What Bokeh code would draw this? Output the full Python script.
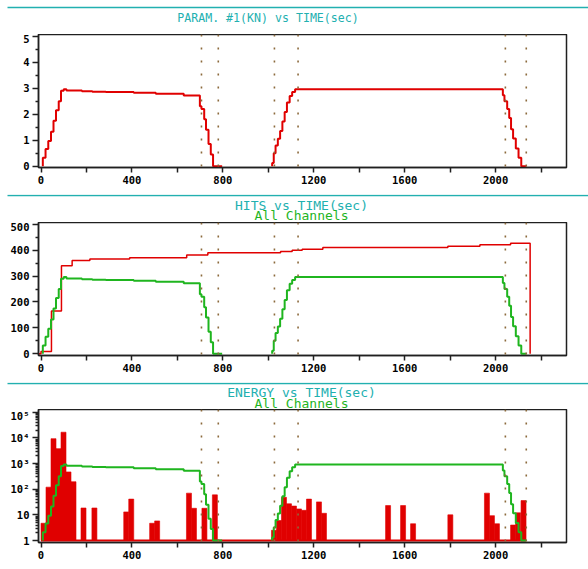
from bokeh.plotting import figure
from bokeh.layouts import column
from bokeh.models import FixedTicker, Span, Range1d
from bokeh.core.properties import value
from bokeh.embed import file_html
from bokeh.resources import INLINE

# ---------------- data ----------------
# time markers (sec) shown as dotted verticals in every panel
event_times = [706, 780, 1027, 1131, 2043, 2135]
x_ticks = [0, 200, 400, 600, 800, 1000, 1200, 1400, 1600, 1800, 2000, 2200]

# load cycle 1 / cycle 2 step times (sec)
t_a = [8, 8, 20, 32, 44, 55, 66, 78, 88, 100, 112, 180, 226, 285, 408, 505, 628,
       699, 706, 718, 726, 737, 747, 757, 797]
t_b = [1017, 1017, 1024, 1032, 1042, 1052, 1062, 1072, 1082, 1094, 1105, 1118,
       2032, 2039, 2051, 2060, 2068, 2077, 2089, 2101, 2113, 2136]

# PARAM. #1 (kN)
param_a = [0, 0.32, 0.66, 0.97, 1.32, 1.75, 2.15, 2.5, 2.9, 2.96, 2.91, 2.88, 2.86,
           2.85, 2.82, 2.78, 2.72, 2.3, 2.2, 1.8, 1.4, 0.85, 0.45, 0, 0]
param_b = [0, 0.12, 0.5, 0.8, 1.05, 1.35, 1.72, 2.08, 2.45, 2.7, 2.85, 2.96,
           2.73, 2.5, 2.2, 1.85, 1.42, 1.06, 0.68, 0.32, 0, 0]

# HITS, channel trace
hits_ch_a = [0, 32, 66, 97, 132, 175, 215, 250, 290, 296, 291, 288, 286,
             285, 282, 278, 272, 230, 220, 180, 140, 85, 45, 0, 0]
hits_ch_b = [0, 12, 50, 80, 105, 135, 172, 208, 245, 270, 285, 296,
             273, 250, 220, 185, 142, 106, 68, 32, 0, 0]

# cumulative HITS, all channels
t_hits = [-10, 0, 46, 90, 137, 215, 390, 641, 734, 1054, 1105, 1149, 1240,
          1790, 1931, 2066, 2152]
hits_total = [0, 9, 165, 340, 360, 366, 371, 381, 390, 395, 400, 403, 410,
              415, 421, 427, 0]

# ENERGY, channel trace
energy_ch_a = [1, 2.1, 4.6, 9.3, 21, 56, 141, 316, 794, 912, 813, 759, 724,
               708, 661, 603, 525, 200, 158, 63, 25, 7.1, 2.8, 1, 1]
energy_ch_b = [1, 1.3, 3.2, 6.3, 11.2, 22.4, 52.5, 120, 282, 501, 708, 912,
               537, 316, 158, 71, 26, 11.5, 4.8, 2.1, 1, 1]

# ENERGY histogram: bin start (sec) and energy per bin
bin_width = 22
bin_start = [0, 22, 44, 66, 88, 110, 132, 176, 224, 364, 386, 478, 500, 640, 662,
             708, 754, 1014, 1036, 1058, 1080, 1102, 1124, 1146, 1168, 1212, 1234,
             1516, 1582, 1626, 1790, 1951, 1973, 1995, 2066, 2088, 2112]
bin_energy = [4.7, 120, 9300, 3800, 16600, 470, 195, 18.5, 18.5, 13, 41, 4.7, 5.8,
              70, 18, 18, 60, 2.5, 6, 48, 27, 22, 17, 15, 41, 32, 11.5,
              23, 23, 4.5, 10, 70, 9.3, 4.5, 4, 12, 36]

# ---------------- styling ----------------
MONO = "DejaVu Sans Mono"
CYAN = "#22b0b0"
GREEN = "#1fb51f"
RED = "#e00000"
BROWN = "#8c6a3c"
W = 588
X_RANGE = (-11, 2312)


def make_head(height, rule_y, lines):
    """Header strip: cyan rule plus the panel title lines (pixel coordinates)."""
    h = figure(width=W, height=height, x_range=Range1d(0, W),
               y_range=Range1d(height, 0), x_axis_location=None,
               y_axis_location=None, toolbar_location=None, output_backend="svg",
               min_border=0)
    h.frame_align = False
    h.grid.visible = False
    h.outline_line_color = None
    h.line([7, W], [rule_y, rule_y], line_color=CYAN, line_width=1.6)
    for text, x, y, size, color in lines:
        h.text(x=[x], y=[y], text=[text], text_font=value(MONO),
               text_font_size=size, text_color=color, text_align="center",
               text_baseline="middle")
    return h


def make_fig(y_range, y_type="linear"):
    p = figure(width=W, height=160, x_range=X_RANGE, y_range=y_range,
               y_axis_type=y_type, toolbar_location=None, output_backend="svg",
               min_border_left=38, min_border_right=22, min_border_top=0,
               min_border_bottom=27)
    p.grid.visible = False
    p.outline_line_color = "#202020"
    p.outline_line_width = 1.5
    for ax in (p.xaxis[0], p.yaxis[0]):
        ax.axis_line_color = "#202020"
        ax.axis_line_width = 1.5
        ax.major_tick_line_color = "#202020"
        ax.minor_tick_line_color = "#202020"
        ax.major_tick_line_width = 1.5
        ax.minor_tick_line_width = 1.5
        ax.major_tick_in = 0
        ax.minor_tick_in = 0
        ax.major_label_text_font = MONO
        ax.major_label_text_font_style = "bold"
        ax.major_label_text_font_size = "10.5px"
        ax.major_label_text_color = "black"
    p.xaxis.ticker = FixedTicker(ticks=x_ticks, minor_ticks=[])
    p.xaxis.major_label_overrides = {t: "" for t in x_ticks if t % 400}
    p.xaxis.major_tick_out = 5
    p.xaxis.major_label_standoff = 3
    p.yaxis.major_tick_out = 6
    p.yaxis.minor_tick_out = 3
    p.yaxis.major_label_standoff = 3
    for t in event_times:
        p.add_layout(Span(location=t, dimension="height", line_color=BROWN,
                          line_width=1.6, line_dash="2 11"))
    return p


# ---- panel 1: PARAM ----
h1 = make_head(34, 7, [("PARAM. #1(KN) vs TIME(sec)", 267.5, 17, "11.6px", CYAN)])
p1 = make_fig((-0.05, 5.06))
p1.yaxis.ticker = FixedTicker(ticks=[0, 1, 2, 3, 4, 5],
                              minor_ticks=[0.5, 1.5, 2.5, 3.5, 4.5])
p1.step(t_a, param_a, mode="after", line_color=RED, line_width=2)
p1.step(t_b, param_b, mode="after", line_color=RED, line_width=2)

# ---- panel 2: HITS ----
h2 = make_head(28, 1, [("HITS vs TIME(sec)", 301, 11, "13px", CYAN),
                       ("All Channels", 301, 20.7, "13px", GREEN)])
p2 = make_fig((-6.5, 506.6))
p2.yaxis.ticker = FixedTicker(ticks=[0, 100, 200, 300, 400, 500],
                              minor_ticks=[50, 150, 250, 350, 450])
p2.step(t_hits, hits_total, mode="after", line_color=RED, line_width=1.5)
p2.step(t_a, hits_ch_a, mode="after", line_color=GREEN, line_width=2)
p2.step(t_b, hits_ch_b, mode="after", line_color=GREEN, line_width=2)

# ---- panel 3: ENERGY (log) ----
h3 = make_head(27, 1, [("ENERGY vs TIME(sec)", 301, 10, "13px", CYAN),
                       ("All Channels", 301, 20.5, "13px", GREEN)])
p3 = make_fig((0.836, 127350), y_type="log")
decades = [1, 10, 100, 1000, 10000, 100000]
p3.yaxis.ticker = FixedTicker(
    ticks=decades,
    minor_ticks=[k * d for d in decades[:-1] for k in range(2, 10)])
p3.yaxis.major_label_overrides = {1: "1", 10: "10", 100: "10\u00b2",
                                  1000: "10\u00b3", 10000: "10\u2074",
                                  100000: "10\u2075"}
p3.quad(left=bin_start, right=[s + bin_width for s in bin_start],
        bottom=1, top=bin_energy, fill_color=RED, line_color=RED, line_width=0.6)
p3.line([bin_start[0], bin_start[-1] + bin_width], [1, 1],
        line_color=RED, line_width=2)
p3.step(t_a, energy_ch_a, mode="after", line_color=GREEN, line_width=2)
p3.step(t_b, energy_ch_b, mode="after", line_color=GREEN, line_width=2)

layout = column(h1, p1, h2, p2, h3, p3)

open("out.html", "w").write(file_html(layout, INLINE))
